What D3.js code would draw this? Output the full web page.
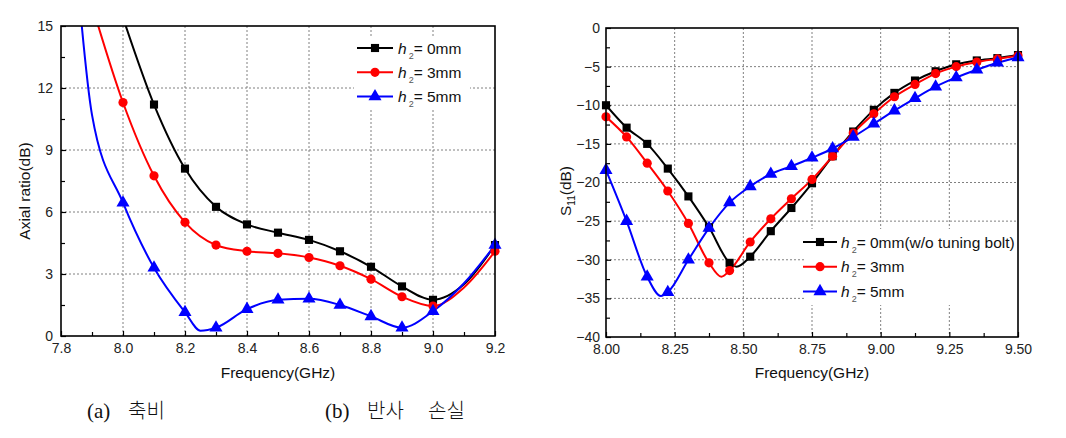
<!DOCTYPE html>
<html><head><meta charset="utf-8">
<script src="https://cdn.jsdelivr.net/npm/d3@7"></script>
<style>
body{margin:0;background:#fff;}
svg{display:block;}
text{font-family:"Liberation Sans",Arial,sans-serif;}
</style></head>
<body>
<svg id="c" width="1066" height="438"></svg>
<script>
// ---------- DATA: (a) Axial ratio ----------
const arFreqBlack = [8.0, 8.1, 8.2, 8.3, 8.4, 8.5, 8.6, 8.7, 8.8, 8.9, 9.0, 9.1, 9.2];
const arBlack     = [15.4, 11.2, 8.1, 6.25, 5.4, 5.0, 4.65, 4.1, 3.35, 2.4, 1.75, 2.5, 4.4];
const arFreqRed   = [7.9, 8.0, 8.1, 8.2, 8.3, 8.4, 8.5, 8.6, 8.7, 8.8, 8.9, 9.0, 9.1, 9.2];
const arRed       = [16.0, 11.3, 7.75, 5.5, 4.4, 4.1, 4.0, 3.8, 3.4, 2.75, 1.9, 1.45, 2.35, 4.1];
const arFreqBlue  = [7.85, 7.9, 8.0, 8.1, 8.2, 8.25, 8.3, 8.4, 8.5, 8.6, 8.7, 8.8, 8.9, 9.0, 9.1, 9.2];
const arBlue      = [17.8, 10.7, 6.45, 3.3, 1.15, 0.26, 0.4, 1.3, 1.75, 1.8, 1.5, 0.95, 0.4, 1.2, 2.55, 4.4];
const arMarkerFreqs = [8.0, 8.1, 8.2, 8.3, 8.4, 8.5, 8.6, 8.7, 8.8, 8.9, 9.0, 9.2];
const arXTicks = [7.8, 8.0, 8.2, 8.4, 8.6, 8.8, 9.0, 9.2];
const arYTicks = [0, 3, 6, 9, 12, 15];

// ---------- DATA: (b) S11 ----------
const s11Freq = [8.0, 8.075, 8.15, 8.225, 8.3, 8.375, 8.45, 8.525, 8.6, 8.675, 8.75, 8.825, 8.9, 8.975, 9.05, 9.125, 9.2, 9.275, 9.35, 9.425, 9.5];
const s11Black = [-10.0, -12.9, -15.0, -18.2, -21.8, -25.8, -30.4, -29.6, -26.3, -23.3, -20.1, -16.6, -13.4, -10.6, -8.4, -6.8, -5.6, -4.7, -4.2, -3.9, -3.5];
const s11Red   = [-11.5, -14.1, -17.5, -21.1, -25.3, -30.4, -31.4, -27.7, -24.7, -22.1, -19.6, -16.6, -13.6, -11.1, -8.9, -7.3, -5.9, -5.0, -4.4, -4.0, -3.6];
const s11Blue  = [-18.4, -25.0, -32.2, -34.2, -30.0, -25.9, -22.6, -20.5, -18.9, -17.9, -16.8, -15.6, -14.1, -12.4, -10.7, -9.1, -7.6, -6.4, -5.4, -4.5, -3.8];
// extra (unmarked) points at the curve minima
const s11BlackMinF = 8.475, s11BlackMin = -30.9;
const s11RedMinF   = 8.42,  s11RedMin   = -32.2;
const s11BlueMinF  = 8.2,   s11BlueMin  = -34.7;
const s11XTicks = [8.0, 8.25, 8.5, 8.75, 9.0, 9.25, 9.5];
const s11YTicks = [-40, -35, -30, -25, -20, -15, -10, -5, 0];

const legendA = ["= 0mm", "= 3mm", "= 5mm"];
const legendB = ["= 0mm(w/o tuning bolt)", "= 3mm", "= 5mm"];
const colors = ["#000000", "#ff0000", "#0000ff"];
const symbols = [d3.symbolSquare, d3.symbolCircle, d3.symbolTriangle];
const symSizes = [66, 66, 74];

const svg = d3.select("#c");

function zip(fs, vs){ return fs.map((f,i)=>({f:f, v:vs[i]})); }

function panel(o){
  const g = svg.append("g");
  const x = d3.scaleLinear().domain(o.xDom).range(o.xRange);
  const y = d3.scaleLinear().domain(o.yDom).range(o.yRange);
  const [x0,x1] = o.xRange, [y0,y1] = [o.yRange[1], o.yRange[0]];
  const clipId = "clip"+o.id;
  svg.append("clipPath").attr("id", clipId).append("rect")
     .attr("x", x0).attr("y", y0).attr("width", x1-x0).attr("height", y1-y0);
  // grid
  const grid = g.append("g").attr("stroke","#808080").attr("stroke-width",1).attr("stroke-dasharray","2,2");
  o.xTicks.forEach(t=>{ const px=x(t); if(px>x0+1 && px<x1-1) grid.append("line").attr("x1",px).attr("x2",px).attr("y1",y0).attr("y2",y1); });
  o.yTicks.forEach(t=>{ const py=y(t); if(py>y0+1 && py<y1-1) grid.append("line").attr("y1",py).attr("y2",py).attr("x1",x0).attr("x2",x1); });

  // axes
  const ax = g.append("g").attr("transform",`translate(0,${y1})`)
    .call(d3.axisBottom(x).tickValues(o.xTicks).tickFormat(d3.format(o.xFmt)).tickSizeInner(-5).tickSizeOuter(0).tickPadding(7));
  const axm = g.append("g").attr("transform",`translate(0,${y1})`)
    .call(d3.axisBottom(x).tickValues(o.xMinor).tickFormat("").tickSizeInner(-4).tickSizeOuter(0));
  const ay = g.append("g").attr("transform",`translate(${x0},0)`)
    .call(d3.axisLeft(y).tickValues(o.yTicks).tickFormat(d3.format(o.yFmt)).tickSizeInner(-5).tickSizeOuter(0).tickPadding(o.yPad));
  const aym = g.append("g").attr("transform",`translate(${x0},0)`)
    .call(d3.axisLeft(y).tickValues(o.yMinor).tickFormat("").tickSizeInner(-4).tickSizeOuter(0));
  [ax,axm,ay,aym].forEach(a=>{
    a.select(".domain").remove();
    a.selectAll("line").attr("stroke","#000").attr("stroke-width",1.2);
    a.selectAll("text").attr("font-size",14).attr("fill","#222").attr("font-family","Liberation Sans, Arial, sans-serif");
  });

  // series
  o.series.forEach((s,i)=>{
    const line = d3.line().x(d=>x(d.f)).y(d=>y(d.v)).curve(d3.curveMonotoneX);
    g.append("path").datum(s.pts).attr("d", line).attr("fill","none")
      .attr("stroke", colors[i]).attr("stroke-width",2).attr("clip-path",`url(#${clipId})`);
  });
  o.series.forEach((s,i)=>{
    const mk = s.pts.filter(d=>s.marks(d.f) && d.v>=o.yDom[0] && d.v<=o.yDom[1]);
    g.selectAll(null).data(mk).enter().append("path")
      .attr("d", d3.symbol().type(symbols[i]).size(symSizes[i]))
      .attr("transform", d=>`translate(${x(d.f)},${y(d.v)})`)
      .attr("fill", colors[i]);
  });

  // frame
  g.append("rect").attr("x",x0).attr("y",y0).attr("width",x1-x0).attr("height",y1-y0)
    .attr("fill","none").attr("stroke","#000").attr("stroke-width",1.6);

  // legend
  const L = o.legend;
  g.append("rect").attr("x",L.bx).attr("y",L.by).attr("width",L.bw).attr("height",L.bh).attr("fill","#fff");
  L.labels.forEach((lab,i)=>{
    const yy = L.y + i*L.dy;
    g.append("line").attr("x1",L.x).attr("x2",L.x+L.len).attr("y1",yy).attr("y2",yy)
      .attr("stroke",colors[i]).attr("stroke-width",2);
    g.append("path").attr("d", d3.symbol().type(symbols[i]).size(symSizes[i]))
      .attr("transform",`translate(${L.x+L.len/2},${yy})`).attr("fill",colors[i]);
    const t = g.append("text").attr("x", L.tx).attr("y", yy+5.5).attr("font-size",15.5).attr("fill","#111");
    t.append("tspan").attr("font-style","italic").text("h");
    t.append("tspan").attr("font-size",9).attr("dx",2).attr("dy",5).attr("fill","#555").text("2");
    t.append("tspan").attr("dy",-5).attr("dx",0).text(lab);
  });

  // axis titles
  g.append("text").attr("x",(x0+x1)/2).attr("y",o.xTitleY).attr("text-anchor","middle")
    .attr("font-size",15.5).attr("fill","#111").text("Frequency(GHz)");
  const yt = g.append("text").attr("transform",`translate(${o.yTitleX},${o.yTitleY}) rotate(-90)`)
    .attr("text-anchor","middle").attr("font-size",15.5).attr("fill","#111");
  o.yTitle(yt);
  return g;
}

const step = (a,b,s)=>d3.range(Math.round((b-a)/s)+1).map(i=>+(a+i*s).toFixed(4));

panel({
  id:"A", xDom:[7.8,9.2], xRange:[61,495], yDom:[0,15], yRange:[336,26],
  xTicks:arXTicks, xMinor:step(7.9,9.1,0.2), yTicks:arYTicks, yMinor:step(1.5,13.5,3),
  xFmt:".1f", yFmt:"d", yPad:8,
  series:[
    {pts:zip(arFreqBlack,arBlack), marks:f=>arMarkerFreqs.some(m=>Math.abs(m-f)<1e-6)},
    {pts:zip(arFreqRed,arRed), marks:f=>arMarkerFreqs.some(m=>Math.abs(m-f)<1e-6)},
    {pts:zip(arFreqBlue,arBlue), marks:f=>arMarkerFreqs.some(m=>Math.abs(m-f)<1e-6)}
  ],
  legend:{x:357,len:36,y:48,dy:24.3,tx:398,labels:legendA,bx:354,by:36,bw:116,bh:72},
  xTitleY:378, yTitleX:30, yTitleY:191,
  yTitle:t=>t.text("Axial ratio(dB)")
});

function withMin(fs, vs, mf, mv){
  const pts = zip(fs,vs); pts.push({f:mf, v:mv}); pts.sort((a,b)=>a.f-b.f); return pts;
}
const isS11 = f=>s11Freq.some(m=>Math.abs(m-f)<1e-6);
panel({
  id:"B", xDom:[8.0,9.5], xRange:[606,1018], yDom:[-40,0], yRange:[337,28],
  xTicks:s11XTicks, xMinor:step(8.125,9.375,0.25), yTicks:s11YTicks, yMinor:step(-37.5,-2.5,5),
  xFmt:".2f", yFmt:"d", yPad:6,
  series:[
    {pts:withMin(s11Freq,s11Black,s11BlackMinF,s11BlackMin), marks:isS11},
    {pts:withMin(s11Freq,s11Red,s11RedMinF,s11RedMin), marks:isS11},
    {pts:withMin(s11Freq,s11Blue,s11BlueMinF,s11BlueMin), marks:isS11}
  ],
  legend:{x:803,len:34,y:242,dy:24.7,tx:841,labels:legendB,bx:806,by:229,bw:210,bh:76},
  xTitleY:378, yTitleX:571, yTitleY:191,
  yTitle:t=>{ t.append("tspan").text("S"); t.append("tspan").attr("font-size",10).attr("dy",4).text("11"); t.append("tspan").attr("dy",-4).text("(dB)"); }
});

// captions
const cap = svg.append("g").attr("font-size",20).attr("fill","#111");
const c1 = cap.append("text").attr("y",418).style("font-family","'Liberation Serif','Noto Sans CJK KR',serif");
c1.append("tspan").attr("x",87).attr("font-size",21).text("(a)");
c1.append("tspan").attr("x",128).style("font-family","'Noto Sans CJK KR',sans-serif").attr("font-weight",300).text("축비");
const c2 = cap.append("text").attr("y",418).style("font-family","'Liberation Serif','Noto Sans CJK KR',serif");
c2.append("tspan").attr("x",325).attr("font-size",21).text("(b)");
c2.append("tspan").attr("x",367).style("font-family","'Noto Sans CJK KR',sans-serif").attr("font-weight",300).text("반사");
c2.append("tspan").attr("x",428).style("font-family","'Noto Sans CJK KR',sans-serif").attr("font-weight",300).text("손실");
</script>
</body></html>
